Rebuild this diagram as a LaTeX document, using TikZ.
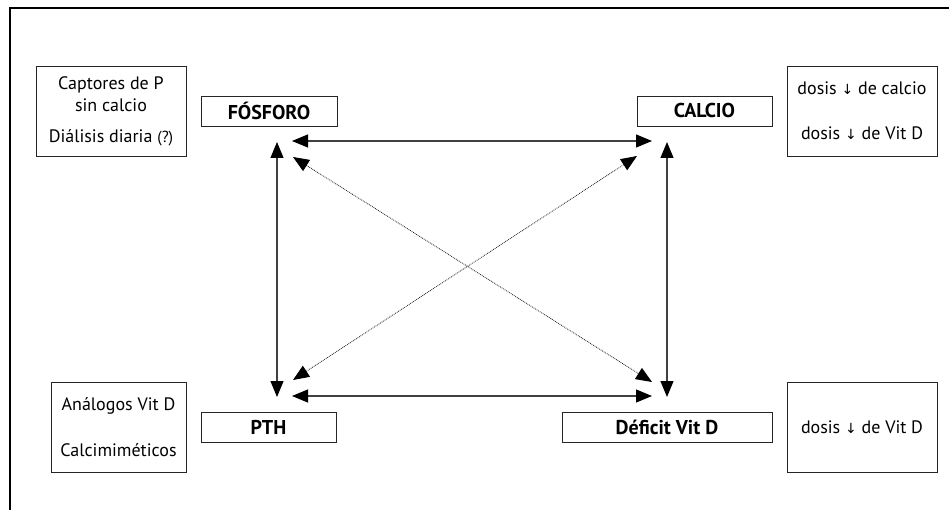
\documentclass[tikz,border=0pt]{standalone}
\usepackage{fontspec}
\setmainfont{PT Sans}
\newfontfamily\symf{DejaVu Sans}
\usetikzlibrary{arrows.meta}
\newcommand{\dn}{{\symf\fontsize{14}{16}\selectfont ↓}}
\begin{document}
\begin{tikzpicture}[x=1pt,y=-1pt,
  box/.style={draw=black!85, line width=0.9pt, align=center, inner sep=0pt, font=\fontsize{18}{21}\selectfont},
  bbox/.style={box, font=\fontsize{20}{22}\selectfont\bfseries, minimum height=30pt},
  link/.style={line width=1.1pt, draw=black!75, {Triangle[length=16pt,width=13pt,black]}-{Triangle[length=16pt,width=13pt,black]}},
  dlink/.style={line width=0.8pt, draw=black!90, densely dotted, {Triangle[length=16pt,width=13pt,black]}-{Triangle[length=16pt,width=13pt,black]}}]
\useasboundingbox (0,0) rectangle (949,510);
% frame
\coordinate (ftr) at (949,8);
\coordinate (ftl) at (10,8);
\coordinate (fbl) at (10,510);
\draw[line width=1.2pt] (ftr) -- (ftl) -- (fbl);
% boxes
\node[box, minimum width=150pt, minimum height=90pt] (capt) at (111,111) {Captores de P\\[1pt] sin calcio\\[10pt] Diálisis diaria {\fontsize{16}{18}\selectfont(?)}};
\node[bbox, minimum width=136pt] (fos) at (269,111) {FÓSFORO};
\node[bbox, minimum width=135pt] (cal) at (704.5,111) {CALCIO};
\node[box, minimum width=150pt, minimum height=90pt] (dtop) at (862,111) {dosis \dn{} de calcio\\[24pt] dosis \dn{} de Vit D};
\node[box, minimum width=135pt, minimum height=90pt] (ana) at (118.5,427) {Análogos Vit D\\[25pt] Calcimiméticos};
\node[bbox, minimum width=135pt] (pth) at (268.5,427) {PTH};
\node[bbox, minimum width=210pt] (def) at (667,427) {Déficit Vit D};
\node[box, minimum width=150pt, minimum height=90pt] (dbot) at (862,427) {dosis \dn{} de Vit D};
% connector ends
\coordinate (ta) at (292,141); \coordinate (tb) at (652,141);
\coordinate (ba) at (292,396); \coordinate (bb) at (652,396);
\coordinate (la) at (277,142); \coordinate (lb) at (277,397);
\coordinate (ra) at (667,142); \coordinate (rb) at (667,397);
\coordinate (d1a) at (293,157); \coordinate (d1b) at (652,382);
\coordinate (d2a) at (293,380); \coordinate (d2b) at (637,156);
\draw[link] (ta) -- (tb);
\draw[link] (ba) -- (bb);
\draw[link] (la) -- (lb);
\draw[link] (ra) -- (rb);
\draw[dlink] (d1a) -- (d1b);
\draw[dlink] (d2a) -- (d2b);
\end{tikzpicture}
\end{document}
